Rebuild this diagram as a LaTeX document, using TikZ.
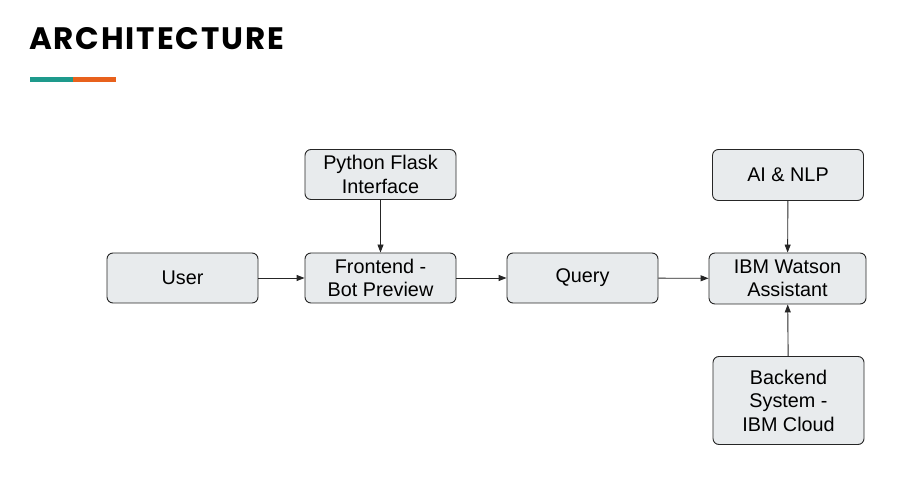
\documentclass[tikz,border=0pt]{standalone}
\usepackage{fontspec}
\setmainfont{Liberation Sans}
\newfontfamily\titlefont[LetterSpace=6]{Poppins}
\usetikzlibrary{arrows.meta, positioning}

\begin{document}
\begin{tikzpicture}[x=1pt, y=1pt,
        box/.style={draw=black!85, line width=0.9pt, fill=boxgray, rounded corners=6pt,
            minimum width=151pt, minimum height=50pt, align=center, inner sep=2pt,
            font=\fontsize{19.8}{23.5}\selectfont},
        link/.style={line width=0.9pt, black!85, -{Triangle[length=8pt, width=6pt]}}]
        \definecolor{boxgray}{HTML}{E8EBED}
        \definecolor{barteal}{HTML}{1E9A8C}
        \definecolor{barorange}{HTML}{E8611C}
        \useasboundingbox (0,0) rectangle (921,479);

        % title and bar
        \node[anchor=base west, inner sep=0pt] (title) at (29,429)
            {\titlefont\bfseries\fontsize{31}{36}\selectfont ARCHITECTURE};
        \fill[barteal] (30,397) rectangle (73,402);
        \fill[barorange] (73,397) rectangle (116,402);

        % boxes
        \node[box] (user) at (182.5,201) {User};
        \node[box] (front) at (380.5,201) {Frontend -\\Bot Preview};
        \node[box] (flask) at (380.5,304.5) {Python Flask\\Interface};
        \node[box] (query) at (582.5,201) {Query};
        \node[box, minimum width=157pt, minimum height=51pt] (watson) at (787.5,200.5) {IBM Watson\\Assistant};
        \node[box, minimum height=51pt] (ai) at (788,304) {AI \& NLP};
        \node[box, minimum height=88pt] (backend) at (788.5,78.5) {Backend\\System -\\IBM Cloud};

        % arrows
        \draw[link] (user) -- (front);
        \draw[link] (front) -- (query);
        \draw[link] (query) -- (watson);
        \draw[link] (flask) -- (front);
        \draw[link] (ai) -- (watson);
        \draw[link] (backend) -- (watson);
    \end{tikzpicture}
\end{document}
